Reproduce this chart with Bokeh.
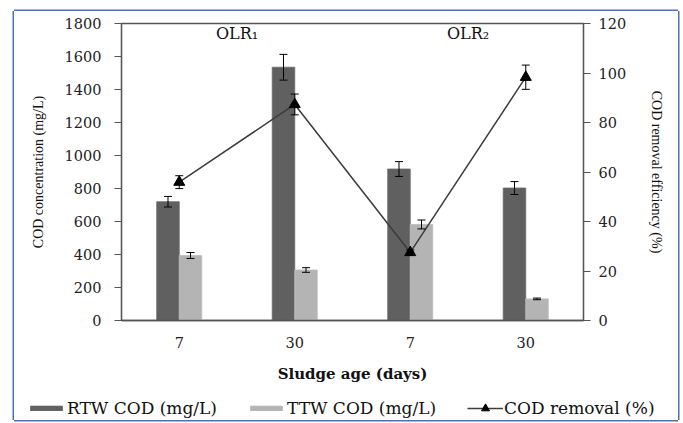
import numpy as np
from bokeh.plotting import figure
from bokeh.models import (Range1d, LinearAxis, FixedTicker, ColumnDataSource,
                          Whisker, TeeHead, Legend, LegendItem)
from bokeh.core.properties import value
from bokeh.embed import file_html
from bokeh.resources import INLINE

# ---- data ----
sludge_age = ["7", "30", "7", "30"]
olr_group = ["OLR₁", "OLR₁", "OLR₂", "OLR₂"]
rtw_cod = [720, 1535, 918, 803]
rtw_err = [32, 78, 45, 39]
ttw_cod = [394, 306, 582, 131]
ttw_err = [18, 14, 27, 5]
cod_removal = [55.9, 87.3, 27.5, 98.3]
removal_err = [2.6, 4.2, 1.0, 4.9]
conc_ticks = [0, 200, 400, 600, 800, 1000, 1200, 1400, 1600, 1800]
eff_ticks = [0, 20, 40, 60, 80, 100, 120]
series_labels = ["RTW COD (mg/L)", "TTW COD (mg/L)", "COD removal (%)"]

SERIF = "DejaVu Serif"
TIMES = "Liberation Serif"
AX = "#555555"
BLUE = "#4f73ad"
RTW_COLOR = "#606060"
TTW_COLOR = "#b4b4b4"
LINE_COLOR = "#3c3c3c"

n = len(sludge_age)
pos = np.arange(n) + 0.5
bw = 0.195

p = figure(width=664, height=379,
           x_range=Range1d(0, n), y_range=Range1d(conc_ticks[0], conc_ticks[-1]),
           output_backend="svg", toolbar_location=None,
           min_border_left=107, min_border_right=95,
           min_border_top=12, min_border_bottom=70)
p.margin = (11, 0, 0, 14)
p.styles = {"box-shadow": f"-1.5px 0 0 0 {BLUE}, 1.5px 0 0 0 {BLUE}, 0 -1.5px 0 0 {BLUE}"}
p.extra_y_ranges = {"pct": Range1d(eff_ticks[0], eff_ticks[-1])}
p.grid.visible = False
p.outline_line_color = AX
p.outline_line_width = 1.3
p.background_fill_color = "white"
p.border_fill_color = "white"

src = ColumnDataSource(dict(
    x_rtw=pos - bw / 2, x_ttw=pos + bw / 2, x=pos,
    rtw=rtw_cod, ttw=ttw_cod, rem=cod_removal,
    rtw_lo=np.array(rtw_cod) - np.array(rtw_err), rtw_hi=np.array(rtw_cod) + np.array(rtw_err),
    ttw_lo=np.array(ttw_cod) - np.array(ttw_err), ttw_hi=np.array(ttw_cod) + np.array(ttw_err),
    rem_lo=np.array(cod_removal) - np.array(removal_err),
    rem_hi=np.array(cod_removal) + np.array(removal_err),
))

bar_rtw = dict(fill_color=RTW_COLOR, line_color="#6a6a6a", line_width=0.8)
bar_ttw = dict(fill_color=TTW_COLOR, line_color="#bcbcbc", line_width=0.8)
line_sty = dict(line_color=LINE_COLOR, line_width=1.5)
mark_sty = dict(marker="triangle", size=11, fill_color="black", line_color="black")

p.vbar(x="x_rtw", top="rtw", width=bw, bottom=0, source=src, **bar_rtw)
p.vbar(x="x_ttw", top="ttw", width=bw, bottom=0, source=src, **bar_ttw)

for base, lo, hi, rng in (("x_rtw", "rtw_lo", "rtw_hi", "default"),
                          ("x_ttw", "ttw_lo", "ttw_hi", "default"),
                          ("x", "rem_lo", "rem_hi", "pct")):
    w = Whisker(source=src, base=base, lower=lo, upper=hi, dimension="height",
                line_color="black", line_width=1,
                upper_head=TeeHead(size=8, line_color="black", line_width=1),
                lower_head=TeeHead(size=8, line_color="black", line_width=1),
                level="annotation")
    if rng != "default":
        w.y_range_name = rng
    p.add_layout(w)

p.line(x="x", y="rem", source=src, y_range_name="pct", **line_sty)
p.scatter(x="x", y="rem", source=src, y_range_name="pct", **mark_sty)

# group labels OLR1 / OLR2 near the top of the plot
groups = list(dict.fromkeys(olr_group))
gx = [float(np.mean([pos[i] for i in range(n) if olr_group[i] == g])) for g in groups]
p.text(x=gx, y=[conc_ticks[-1]] * len(groups), text=groups, y_offset=10,
       text_align="center", text_baseline="middle",
       text_font=value(SERIF), text_font_size="16px", text_color="#111111")

# axes
xa = p.xaxis[0]
xa.ticker = FixedTicker(ticks=list(pos))
xa.major_label_overrides = {float(x): lab for x, lab in zip(pos, sludge_age)}
xa.major_tick_out = 0
xa.major_tick_in = 0
xa.minor_tick_out = 0
xa.minor_tick_in = 0
xa.axis_line_color = AX
xa.axis_line_width = 1.3
xa.major_label_standoff = 16
xa.major_label_text_font = SERIF
xa.major_label_text_font_size = "14.5px"
xa.major_label_text_color = "#222222"
xa.axis_label = "Sludge age (days)"
xa.axis_label_text_font = SERIF
xa.axis_label_text_font_style = "bold"
xa.axis_label_text_font_size = "15px"
xa.axis_label_text_color = "#111111"
xa.axis_label_standoff = 14

ya = p.yaxis[0]
ya.ticker = FixedTicker(ticks=conc_ticks)
ya.minor_tick_out = 0
ya.minor_tick_in = 0
ya.major_tick_out = 7
ya.major_tick_in = 0
ya.major_tick_line_color = AX
ya.major_tick_line_width = 1.2
ya.axis_line_color = AX
ya.axis_line_width = 1.3
ya.major_label_standoff = 13
ya.major_label_text_font = SERIF
ya.major_label_text_font_size = "14.5px"
ya.major_label_text_color = "#222222"
ya.axis_label = "COD concentration (mg/L)"
ya.axis_label_text_font = TIMES
ya.axis_label_text_font_style = "normal"
ya.axis_label_text_font_size = "14px"
ya.axis_label_text_color = "#111111"
ya.axis_label_standoff = 16

ra = LinearAxis(y_range_name="pct", ticker=FixedTicker(ticks=eff_ticks))
ra.minor_tick_out = 0
ra.minor_tick_in = 0
ra.major_tick_out = 7
ra.major_tick_in = 0
ra.major_tick_line_color = AX
ra.major_tick_line_width = 1.2
ra.axis_line_color = AX
ra.axis_line_width = 1.3
ra.major_label_standoff = 8
ra.major_label_text_font = SERIF
ra.major_label_text_font_size = "14.5px"
ra.major_label_text_color = "#222222"
ra.axis_label = "COD removal efficiency (%)"
ra.axis_label_text_font = TIMES
ra.axis_label_text_font_style = "normal"
ra.axis_label_text_font_size = "14px"
ra.axis_label_text_color = "#111111"
ra.axis_label_standoff = 20
p.add_layout(ra, "right")

# ---- legend strip: a frame-filling figure; its key renderers share the data
# but are hidden, so only their legend keys are drawn ----
lf = figure(width=664, height=30, x_range=Range1d(0, n),
            y_range=Range1d(conc_ticks[0], conc_ticks[-1]),
            output_backend="svg", toolbar_location=None,
            x_axis_location=None, y_axis_location=None,
            min_border_left=0, min_border_right=0, min_border_top=0, min_border_bottom=0)
lf.margin = (0, 0, 0, 14)
lf.styles = {"box-shadow": f"-1.5px 0 0 0 {BLUE}, 1.5px 0 0 0 {BLUE}, 0 1.5px 0 0 {BLUE}"}
lf.grid.visible = False
lf.outline_line_color = None
lf.background_fill_color = "white"
lf.border_fill_color = "white"
k_rtw = lf.vbar(x="x_rtw", top="rtw", width=bw, bottom=0, source=src, visible=False, **bar_rtw)
k_ttw = lf.vbar(x="x_ttw", top="ttw", width=bw, bottom=0, source=src, visible=False, **bar_ttw)
k_line = lf.line(x="x", y="rem", source=src, visible=False, **line_sty)
k_mark = lf.scatter(x="x", y="rem", source=src, visible=False, **mark_sty)

for label, rends, loc, gw, gh in ((series_labels[0], [k_rtw], (12, 2), 40, 6),
                                  (series_labels[1], [k_ttw], (232, 2), 40, 6),
                                  (series_labels[2], [k_line, k_mark], (453, 2), 36, 20)):
    lg = Legend(items=[LegendItem(label=label, renderers=rends)],
                location=loc, orientation="horizontal",
                glyph_width=gw, glyph_height=gh, label_standoff=1,
                padding=0, margin=0, spacing=0,
                border_line_color=None, background_fill_alpha=0,
                label_text_font=SERIF, label_text_font_size="17px",
                label_text_color="#111111", label_height=16)
    lf.add_layout(lg)

open("out.html", "w").write(file_html([p, lf], INLINE))
